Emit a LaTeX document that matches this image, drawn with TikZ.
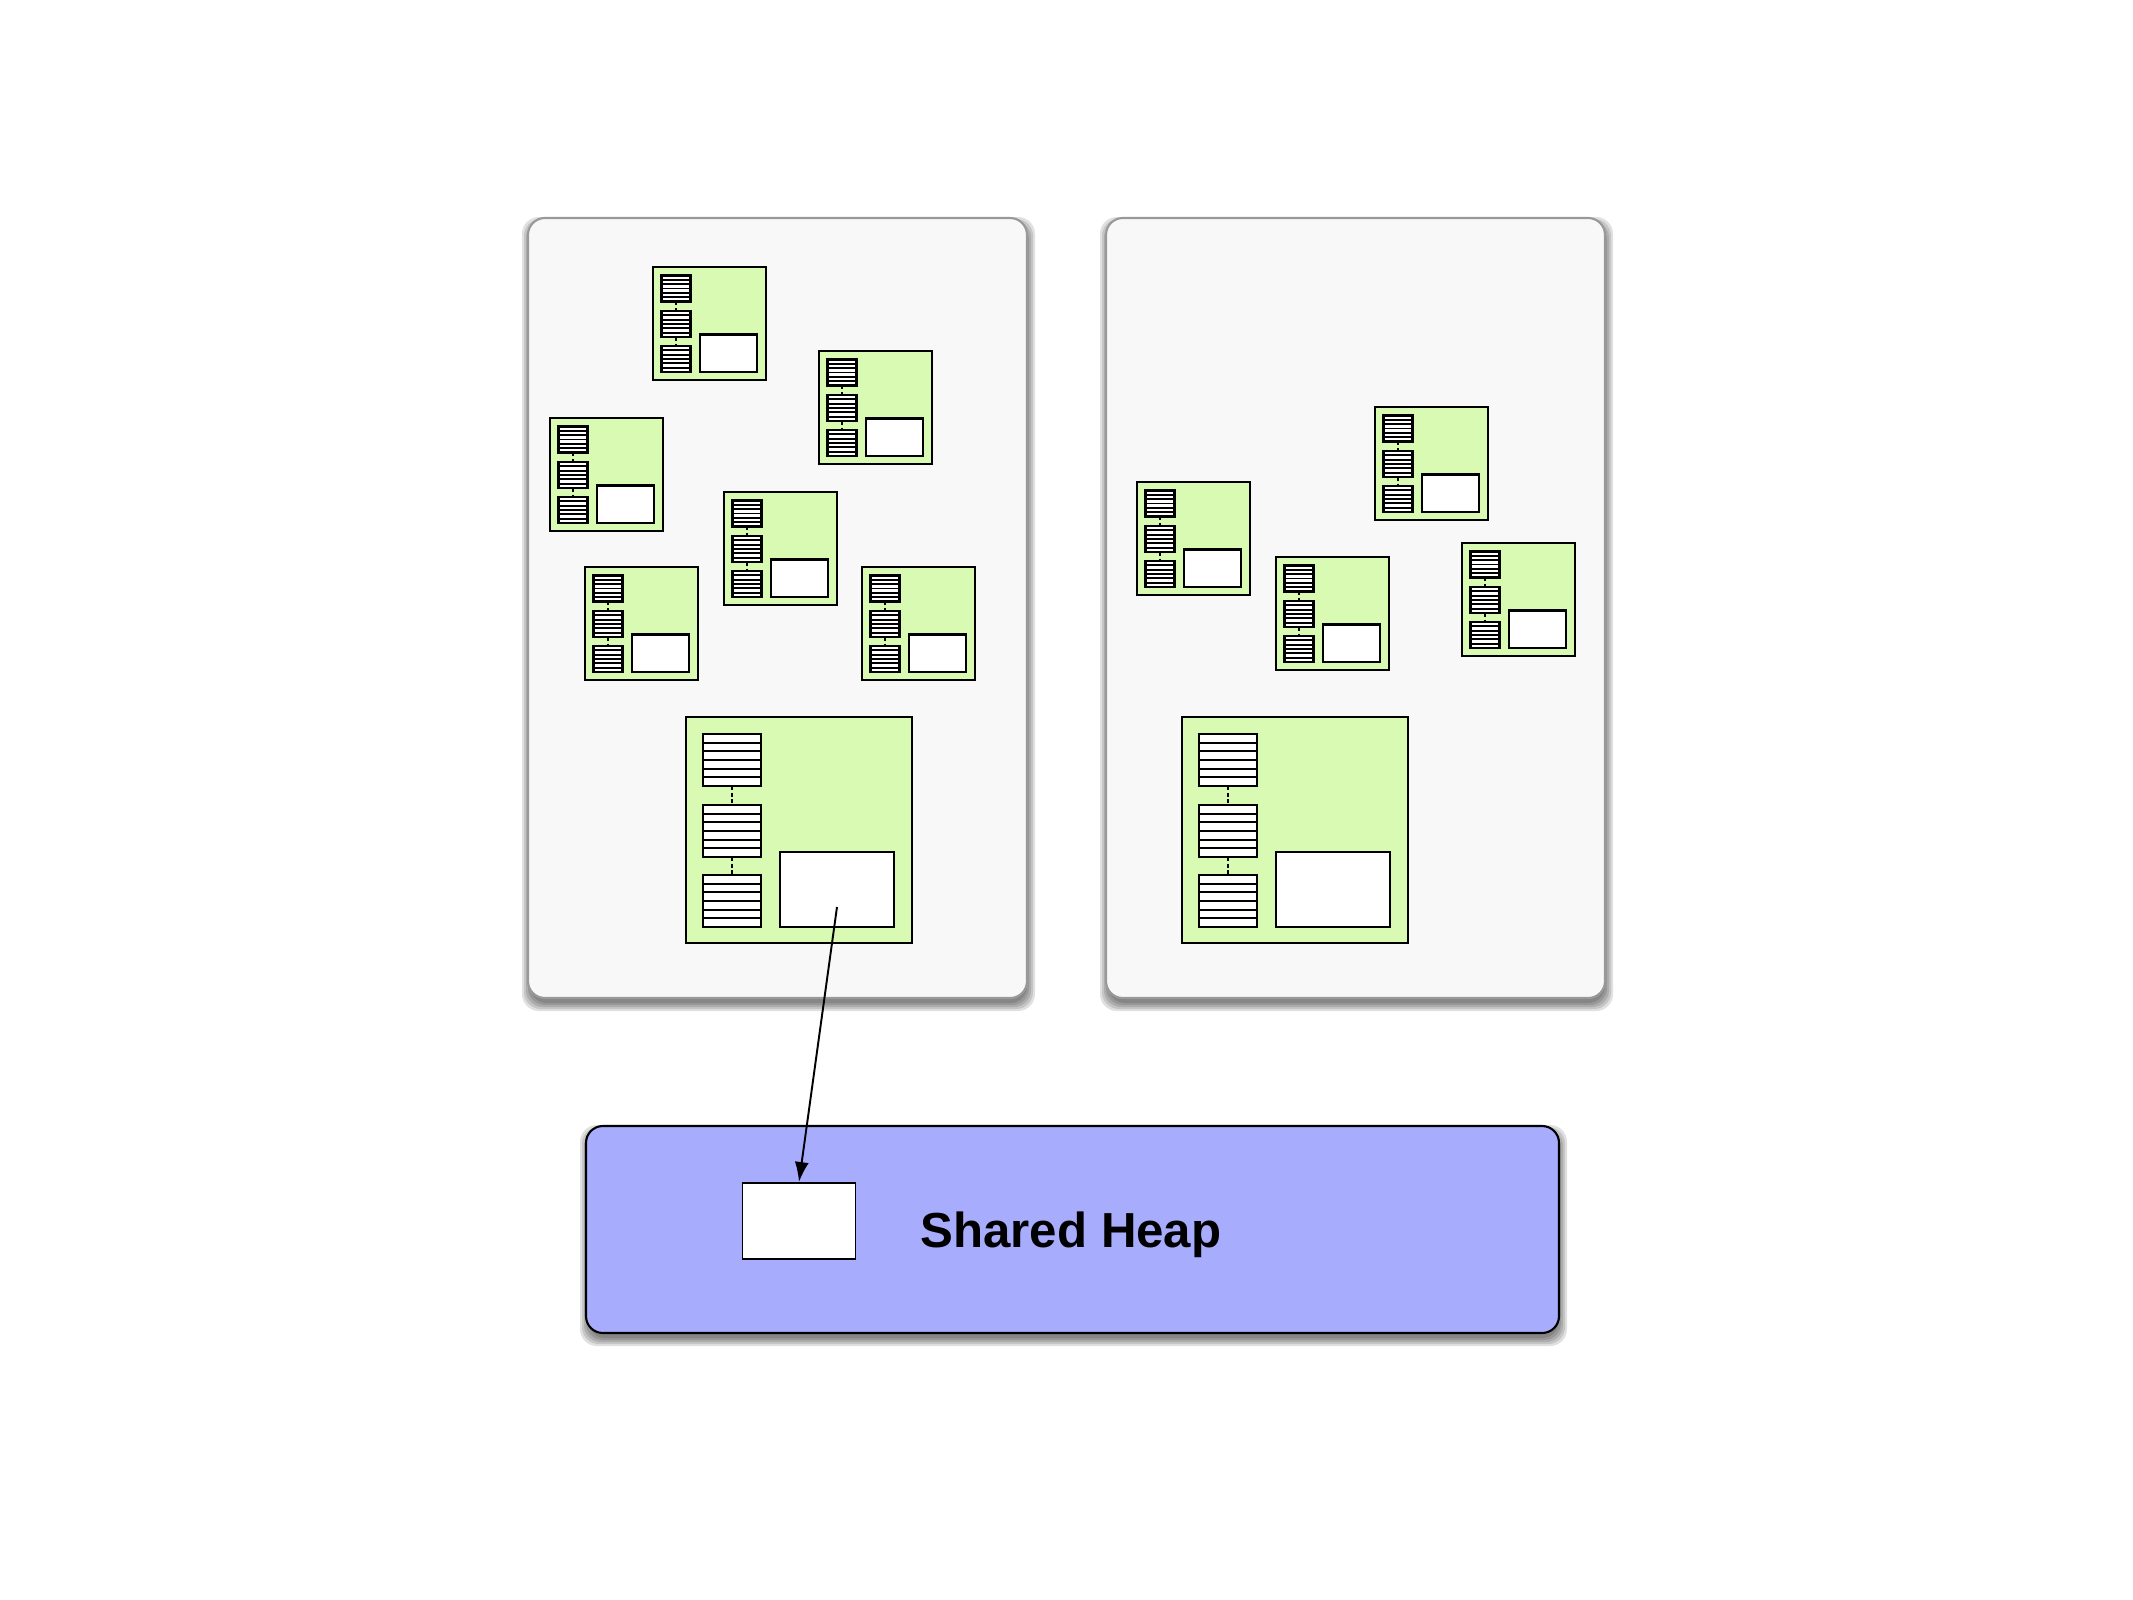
\documentclass[tikz,border=0pt]{standalone}
\usepackage{fontspec}
\setmainfont{Liberation Sans}
\usetikzlibrary{arrows.meta}

\definecolor{threadgreen}{RGB}{216,250,178}
\definecolor{panelgray}{RGB}{248,248,248}
\definecolor{heapblue}{RGB}{168,172,252}

\begin{document}
\begin{tikzpicture}[x=0.1mm,y=-0.1mm]
		\useasboundingbox (0,0) rectangle (2133,1600);

		% soft shadows
		\foreach \e in {-1,1,3,5,7} {
			\fill[black,opacity=0.12,rounded corners=4.8pt] (529-\e,224-\e) rectangle (1028+\e,1004+\e);
			\fill[black,opacity=0.12,rounded corners=4.8pt] (1107-\e,224-\e) rectangle (1606+\e,1004+\e);
			\fill[black,opacity=0.12,rounded corners=4.8pt] (587-\e,1132-\e) rectangle (1560+\e,1339+\e);
		}

		\filldraw[fill=panelgray,draw=black!40,line width=0.6pt,rounded corners=4.8pt] (528,218) rectangle (1027,998);
		\filldraw[fill=panelgray,draw=black!40,line width=0.6pt,rounded corners=4.8pt] (1106,218) rectangle (1605,998);
		\filldraw[fill=heapblue,draw=black,line width=0.6pt,rounded corners=4.8pt] (586,1126) rectangle (1559,1333);

		\foreach \x/\y/\s in {653/267/1, 819/351/1, 550/418/1, 724/492/1, 585/567/1, 862/567/1,
				1137/482/1, 1375/407/1, 1276/557/1, 1462/543/1, 686/717/2, 1182/717/2} {
			\begin{scope}[shift={(\x,\y)},scale=\s]
				\filldraw[fill=threadgreen,draw=black,line width=0.6pt] (0,0) rectangle (113,113);
				\foreach \t in {8.5, 44, 79} {
					\filldraw[fill=white,line width=0.6pt] (8.5,\t) rectangle (37.5,\t+26);
					\foreach \r in {1,...,5} {\draw[line width=0.5pt] (8.5,\t+\r*26/6) -- (37.5,\t+\r*26/6);}
				}
				\draw[dash pattern=on 1.1pt off 0.8pt,line width=0.55pt] (23,34.5) -- (23,44) (23,70) -- (23,79);
				\filldraw[fill=white,line width=0.6pt] (47,67.5) rectangle (104,105);
			\end{scope}
		}

		\node[draw,fill=white,line width=0.55pt,minimum width=11.3mm,minimum height=7.6mm,inner sep=0pt] (heapobj) at (799,1221) {};
		\node[anchor=base,font=\bfseries\fontsize{14}{16}\selectfont] (heaplabel) at (1071,1247) {Shared Heap};

		\coordinate (objref) at (837,907);
		\draw[-{Latex[length=2mm,width=1.4mm]},line width=0.55pt] (objref) -- (heapobj.north);
\end{tikzpicture}
\end{document}
